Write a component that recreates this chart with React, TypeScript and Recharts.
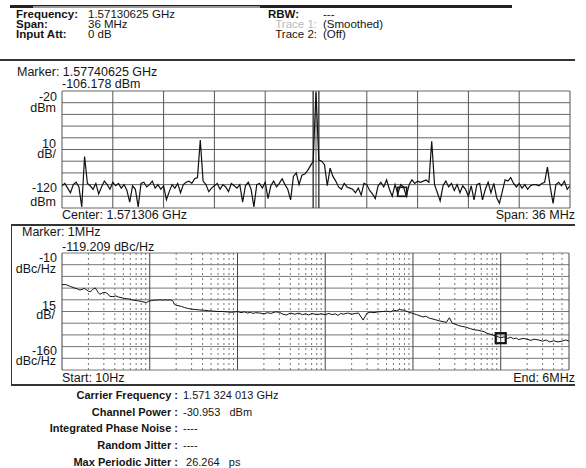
import React from "react";
import { LineChart, Line, XAxis, YAxis, ReferenceLine, ReferenceDot } from "recharts";

// ---------- Header / annotations ----------
const headerLeft = [
  ["Frequency:", "1.57130625 GHz"],
  ["Span:", "36 MHz"],
  ["Input Att:", "0 dB"],
];
const headerRight = [
  ["RBW:", "---"],
  ["Trace 1:", "(Smoothed)"],
  ["Trace 2:", "(Off)"],
];
const infoRows = [
  ["Carrier Frequency :", "1.571 324 013 GHz"],
  ["Channel Power :", "-30.953   dBm"],
  ["Integrated Phase Noise :", "----"],
  ["Random Jitter :", "----"],
  ["Max Periodic Jitter :", " 26.264   ps"],
];

// ---------- Spectrum (top) ----------
const SPEC_START_MHZ = -18;
const SPEC_STEP_MHZ = 0.2;
const specLevels = [
  -101, -99, -103, -107, -100, -98, -102, -119, -76, -99,
  -101, -104, -99, -108, -102, -97, -100, -104, -98, -101,
  -99, -103, -100, -105, -115, -101, -104, -119, -99, -98,
  -102, -100, -97, -103, -100, -104, -101, -113, -106, -100,
  -103, -99, -107, -100, -98, -97, -99, -95, -94, -62,
  -97, -100, -106, -103, -101, -99, -104, -100, -102, -106,
  -99, -101, -103, -100, -115, -101, -98, -104, -119, -100,
  -99, -103, -98, -112, -101, -97, -102, -99, -95, -100,
  -104, -113, -93, -90, -100, -92, -91, -88, -84, -80,
  -21, -79, -80, -83, -101, -86, -93, -97, -102, -104,
  -99, -102, -103, -104, -107, -103, -109, -99, -100, -105,
  -108, -112, -101, -98, -102, -96, -104, -110, -100, -108,
  -100, -102, -110, -100, -96, -99, -97, -98, -97, -96,
  -98, -63, -100, -107, -114, -101, -97, -102, -99, -105,
  -100, -107, -101, -104, -110, -101, -113, -100, -99, -113,
  -104, -98, -107, -99, -111, -116, -106, -96, -97, -94,
  -99, -102, -99, -103, -100, -104, -101, -100, -100, -101,
  -99, -98, -85, -102, -116, -100, -98, -101, -97, -104,
  -101,
];
const specData = specLevels.map((v, i) => ({ f: SPEC_START_MHZ + i * SPEC_STEP_MHZ, v }));
const specXGrid = [-18, -14.4, -10.8, -7.2, -3.6, 0, 3.6, 7.2, 10.8, 14.4, 18];
const specYGrid = [-120, -110, -100, -90, -80, -70, -60, -50, -40, -30, -20];
const specChannelEdges = [-0.2, 0.2];
const specMarker = { f: 6.10625, v: -106.178 };
const specYLabels = [
  ["-20", "dBm"],
  ["10", "dB/"],
  ["-120", "dBm"],
];

// ---------- Phase noise (bottom) ----------
const pnFreq = [
  10, 11, 12, 12.5, 13, 14, 15, 16, 17, 18, 19, 20, 21, 22, 23, 24, 25, 26, 27, 29, 31, 33, 35, 38, 41, 44, 47, 50, 54, 58, 62, 66, 70, 75, 80, 86, 92, 96,
  100, 105, 110, 120, 130, 140, 150, 160, 170, 180, 185, 190, 200, 210, 230, 250, 270, 300, 330, 370, 420, 470, 530, 600, 680, 760, 850, 950,
  1000, 1100, 1200, 1300, 1400, 1500, 1600, 1800, 2000, 2200, 2400, 2700, 3000, 3300, 3600, 4000, 4500, 5000, 5500, 6000, 6500, 7000, 8000, 9000,
  10000, 11000, 12000, 13000, 14000, 15000, 16000, 18000, 20000, 22000, 24000, 27000, 30000, 33000, 36000, 40000, 45000, 50000, 55000, 60000, 65000, 70000, 80000, 90000,
  100000, 110000, 120000, 130000, 140000, 150000, 160000, 180000, 200000, 220000, 240000, 260000, 280000, 300000, 330000, 360000, 400000, 450000, 500000, 550000, 600000, 650000, 700000, 800000, 900000,
  1000000, 1100000, 1200000, 1300000, 1400000, 1500000, 1600000, 1800000, 2000000, 2200000, 2400000, 2700000, 3000000, 3300000, 3600000, 4000000, 4500000, 5000000, 5500000, 6000000,
];
const pnLevel = [
  -50.5, -50.5, -52, -53, -53.5, -55, -56, -57.5, -56.5, -55.5, -57, -59, -59.5, -58, -55.5, -55, -58, -61, -63, -61, -60.5, -62, -65.5, -66, -65, -66.5, -67, -68, -68.5, -69, -70, -70.5, -71, -71.5, -72, -73, -73.5, -72,
  -71.5, -71, -70.5, -70.5, -70, -70.5, -70, -70.5, -70, -71, -72, -75.5, -77, -77.5, -78.5, -80, -81, -82, -82.5, -83, -83.5, -84, -84.5, -85, -85, -85.5, -86, -85.5,
  -85, -86.5, -85.5, -87, -86, -87.5, -86.5, -87, -88, -86.5, -87.5, -85.5, -86, -88.5, -89.5, -87, -88.5, -87, -89, -88, -89.5, -87.5, -89, -88,
  -89, -87.5, -89, -88, -90, -87.5, -88.5, -87, -88.5, -87.5, -87, -96, -87, -86, -86.5, -85.5, -85, -84.5, -85.5, -83.5, -84, -82.5, -83.5, -86,
  -87.5, -89, -90.5, -92, -91, -93, -94, -95.5, -97, -98, -99, -93, -100, -101, -103, -104, -105, -107, -108.5, -109, -110, -111, -113, -115, -117,
  -118.5, -117.5, -119.5, -118, -120, -119, -121, -119.5, -120.5, -122, -120.5, -121.5, -123, -121.5, -124, -122.5, -124, -123, -121.5, -123,
];
const pnData = pnFreq.map((f, i) => ({ f, v: pnLevel[i] }));
const pnDecades = [10, 100, 1000, 10000, 100000, 1000000];
const pnMinorSteps = [2, 3, 4, 5, 6, 7, 8, 9];
const pnMajor = [100, 1000, 10000, 100000, 1000000];
const pnEdges = [10, 6000000];
const pnYGrid = [-160, -145, -130, -115, -100, -85, -70, -55, -40, -25, -10];
const pnMarker = { f: 1000000, v: -119.209 };
const pnYLabels = [
  ["-10", "dBc/Hz"],
  ["15", "dB/"],
  ["-160", "dBc/Hz"],
];
const pnMinor = pnDecades.flatMap((d) => pnMinorSteps.map((m) => d * m)).filter((f) => f < 6000000);

// ---------- helpers ----------
const W = 586;
const FONT = "'Liberation Sans', Arial, sans-serif";

function T({ x, y, s, size = 12, bold = false, right = false, color = "#151515" }: any) {
  const lh = Math.round(size * 0.75);
  const style: any = {
    position: "absolute",
    top: y - lh / 2,
    height: lh,
    fontSize: size,
    lineHeight: `${lh}px`,
    fontWeight: bold ? 700 : 400,
    whiteSpace: "pre",
    color,
    fontFamily: FONT,
  };
  if (right) style.right = W - x;
  else style.left = x;
  return <div style={style}>{s}</div>;
}

const box = (left: number, top: number, width: number, height: number, bg: string) => (
  <div style={{ position: "absolute", left, top, width, height, background: bg }} />
);

const markerShape = (size: number, sw: number) => (p: any) => (
  <rect x={p.cx - size / 2} y={p.cy - size / 2} width={size} height={size} fill="none" stroke="#111" strokeWidth={sw} />
);

export default function App() {
  return (
    <div style={{ position: "absolute", left: 0, top: 0, width: 586, height: 468, background: "#fff", overflow: "hidden", fontFamily: FONT }}>
      {/* top status bar */}
      {box(10, 5, 502, 3, "#222")}
      {box(33, 5.5, 227, 2, "#999")}

      {/* header */}
      {headerLeft.map((r, i) => (
        <React.Fragment key={"hl" + i}>
          <T x={16} y={14 + i * 10} s={r[0]} size={11.5} bold />
          <T x={88} y={14 + i * 10} s={r[1]} size={11.5} />
        </React.Fragment>
      ))}
      <T x={268} y={14} s={headerRight[0][0]} size={11.5} bold />
      <T x={317} y={24} s={headerRight[1][0]} size={11.5} right color="#bbb" />
      <T x={317} y={34} s={headerRight[2][0]} size={11.5} right />
      {headerRight.map((r, i) => (
        <T key={"hr" + i} x={323} y={14 + i * 10} s={r[1]} size={11.5} />
      ))}

      {/* separator */}
      {box(0, 59, 575, 2, "#333")}

      {/* top chart annotations */}
      <T x={17} y={72} s={"Marker: 1.57740625 GHz"} size={12.5} />
      <T x={62} y={84} s={"-106.178 dBm"} size={12.5} />
      <T x={57} y={97} s={specYLabels[0][0]} size={12.5} right />
      <T x={56} y={108} s={specYLabels[0][1]} size={12.5} right />
      <T x={56} y={144} s={specYLabels[1][0]} size={12.5} right />
      <T x={56} y={154} s={specYLabels[1][1]} size={12.5} right />
      <T x={57} y={188} s={specYLabels[2][0]} size={12.5} right />
      <T x={56} y={202} s={specYLabels[2][1]} size={12.5} right />
      <T x={62} y={215} s={"Center: 1.571306 GHz"} size={12.5} />
      <T x={575} y={215} s={"Span: 36 MHz"} size={12.5} right />

      <div style={{ position: "absolute", left: 60, top: 89 }}>
        <LineChart width={512} height={121} data={specData} margin={{ top: 2, right: 2, bottom: 2, left: 2 }}>
          <XAxis dataKey="f" type="number" domain={[-18, 18]} hide allowDataOverflow />
          <YAxis type="number" domain={[-120, -20]} hide allowDataOverflow />
          {specYGrid.map((y) => (
            <ReferenceLine key={"sy" + y} y={y} stroke="#666" strokeWidth={1} ifOverflow="visible" />
          ))}
          {specXGrid.map((x) => (
            <ReferenceLine key={"sx" + x} x={x} stroke="#555" strokeWidth={1} ifOverflow="visible" />
          ))}
          {specChannelEdges.map((x) => (
            <ReferenceLine key={"ce" + x} x={x} stroke="#444" strokeWidth={1.5} ifOverflow="visible" />
          ))}
          <Line dataKey="v" type="linear" stroke="#111" strokeWidth={1.2} dot={false} isAnimationActive={false} />
          <ReferenceDot x={specMarker.f} y={specMarker.v} r={5} shape={markerShape(9, 1.6)} ifOverflow="visible" />
        </LineChart>
      </div>

      {/* bottom box */}
      {box(11, 224, 564, 1.5, "#333")}
      {box(11, 384, 564, 1.5, "#333")}
      {box(10.5, 224, 1.5, 161.5, "#333")}

      <T x={22} y={232} s={"Marker: 1MHz"} size={12.5} />
      <T x={62} y={247} s={"-119.209 dBc/Hz"} size={12.5} />
      <T x={57} y={258} s={pnYLabels[0][0]} size={12.5} right />
      <T x={56} y={269} s={pnYLabels[0][1]} size={12.5} right />
      <T x={56} y={306} s={pnYLabels[1][0]} size={12.5} right />
      <T x={55} y={315} s={pnYLabels[1][1]} size={12.5} right />
      <T x={57} y={351} s={pnYLabels[2][0]} size={12.5} right />
      <T x={56} y={361} s={pnYLabels[2][1]} size={12.5} right />
      <T x={62} y={378} s={"Start: 10Hz"} size={12.5} />
      <T x={575} y={378} s={"End: 6MHz"} size={12.5} right />

      <div style={{ position: "absolute", left: 60, top: 251 }}>
        <LineChart width={511} height={121} data={pnData} margin={{ top: 2, right: 2, bottom: 2, left: 2 }}>
          <XAxis dataKey="f" type="number" scale="log" domain={[10, 6000000]} hide allowDataOverflow />
          <YAxis type="number" domain={[-160, -10]} hide allowDataOverflow />
          {pnYGrid.map((y) => (
            <ReferenceLine key={"py" + y} y={y} stroke="#777" strokeWidth={1} ifOverflow="visible" />
          ))}
          {pnMinor.map((x) => (
            <ReferenceLine key={"pm" + x} x={x} stroke="#777" strokeWidth={1} strokeDasharray="2 3" ifOverflow="visible" />
          ))}
          {pnMajor.map((x) => (
            <ReferenceLine key={"pj" + x} x={x} stroke="#444" strokeWidth={1} ifOverflow="visible" />
          ))}
          {pnEdges.map((x) => (
            <ReferenceLine key={"pe" + x} x={x} stroke="#444" strokeWidth={1} ifOverflow="visible" />
          ))}
          <Line dataKey="v" type="linear" stroke="#111" strokeWidth={1} dot={false} isAnimationActive={false} />
          <ReferenceDot x={pnMarker.f} y={pnMarker.v} r={5} shape={markerShape(10, 2.2)} ifOverflow="visible" />
        </LineChart>
      </div>

      {/* info block */}
      {infoRows.map((r, i) => (
        <React.Fragment key={"ir" + i}>
          <T x={178} y={395 + i * 16.7} s={r[0]} size={11} bold right />
          <T x={183} y={395 + i * 16.7} s={r[1]} size={11} />
        </React.Fragment>
      ))}
    </div>
  );
}
